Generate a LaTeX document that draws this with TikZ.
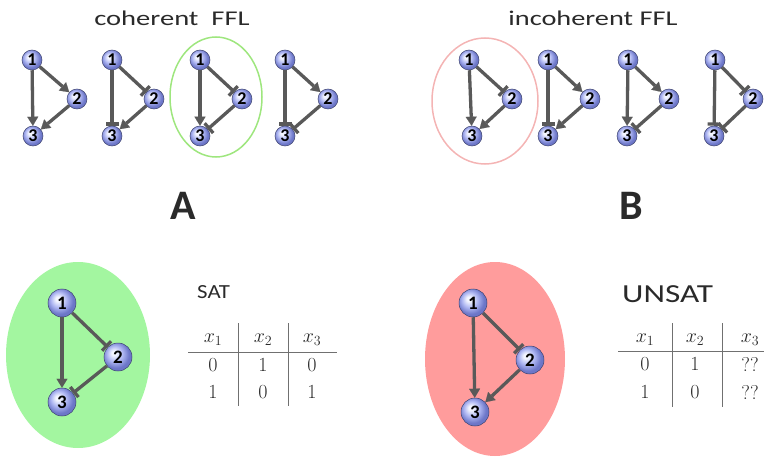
\RequirePackage{fix-cm}
\documentclass[tikz,border=0pt]{standalone}
\usepackage{fontspec}
\newfontfamily\carl{Carlito}
\usetikzlibrary{arrows.meta}
\definecolor{edgegray}{HTML}{595959}
\definecolor{ballhi}{HTML}{F4F6FF}
\definecolor{ballmid}{HTML}{AEB6F2}
\definecolor{balledge}{HTML}{6C76C8}
\definecolor{ballline}{HTML}{3E4470}
\definecolor{ringgreen}{HTML}{9EE67E}
\definecolor{ringred}{HTML}{F4B4B4}
\definecolor{fillgreen}{HTML}{A3F6A0}
\definecolor{fillred}{HTML}{FF9C9C}
\definecolor{rulegray}{HTML}{707070}
\definecolor{txt}{HTML}{2A2A2A}
\pgfdeclareradialshading{fflball}{\pgfpoint{-8bp}{8bp}}{%
  color(0bp)=(ballhi); color(4bp)=(ballhi); color(14bp)=(ballmid);
  color(24bp)=(balledge); color(50bp)=(balledge)}
\newcommand\fflmotif[7]{%
  \node[ball] (#1a) at (#2,60) {1};
  \node[ball] (#1b) at (#3,99) {2};
  \node[ball] (#1c) at (#4,136) {3};
  \draw[#5] (#1a) -- (#1b);
  \draw[#6] (#1b) -- (#1c);
  \draw[#7] (#1a) -- (#1c);
}
\begin{document}
\begin{tikzpicture}[x=1pt,y=-1pt,
  ball/.style={circle, inner sep=0pt, minimum size=20pt, shading=fflball,
    draw=ballline, line width=0.5pt, text=black,
    font=\carl\bfseries\fontsize{18}{18}\selectfont},
  bigball/.style={ball, minimum size=28pt, font=\carl\bfseries\fontsize{19}{19}\selectfont},
  act/.style={draw=edgegray, line width=3.3pt,
    -{Triangle[length=9pt,width=11pt,line width=0.1pt,fill=edgegray]}},
  inh/.style={draw=edgegray, line width=3.3pt,
    -{Bar[width=13pt,line width=3.3pt]}},
  title/.style={font=\carl\fontsize{21}{21}\selectfont, text=txt, inner sep=0pt},
  letter/.style={font=\carl\bfseries\fontsize{42}{42}\selectfont, text=txt, inner sep=0pt},
  sat/.style={font=\carl\fontsize{20}{20}\selectfont, text=txt, inner sep=0pt, anchor=west},
  cell/.style={font=\fontsize{20}{20}\selectfont, inner sep=0pt, text=txt},
  rule/.style={draw=rulegray, line width=0.9pt}
]
\useasboundingbox (0,0) rectangle (764,460);

% titles
\node[title] (tcoh) at (172,18) {\scalebox{1.36}[1]{coherent\ \ FFL}};
\node[title] (tinc) at (593,18) {\scalebox{1.35}[1]{incoherent FFL}};

% rings
\draw[ringgreen, line width=1.5pt] (216,97) ellipse [x radius=46, y radius=60];
\draw[ringred, line width=1.5pt] (485,101) ellipse [x radius=53, y radius=63];

% coherent motifs
\fflmotif{c1}{32}{77}{33}{act}{act}{act}
\fflmotif{c2}{112}{154}{112}{inh}{act}{inh}
\fflmotif{c3}{200}{242}{200}{inh}{inh}{act}
\fflmotif{c4}{285}{328}{285}{act}{inh}{inh}

% incoherent motifs
\fflmotif{i1}{469}{512}{472}{inh}{act}{act}
\fflmotif{i2}{548}{590}{548}{act}{act}{inh}
\fflmotif{i3}{628}{669}{627}{act}{inh}{act}
\fflmotif{i4}{715}{753}{714}{inh}{inh}{inh}

% letters
\node[letter] (lA) at (183,206) {A};
\node[letter] (lB) at (631,206) {B};

% bottom left: SAT
\fill[fillgreen] (78,355) ellipse [x radius=72, y radius=93];
\node[bigball] (ga) at (62,303) {1};
\node[bigball] (gb) at (118,357) {2};
\node[bigball] (gc) at (62,402) {3};
\draw[inh] (ga) -- (gb);
\draw[inh] (gb) -- (gc);
\draw[act] (ga) -- (gc);

\node[sat] (tsat) at (197,292) {\scalebox{1.14}[1]{SAT}};
\draw[rule] (188,352) -- (337,352);
\draw[rule] (238,323) -- (238,406);
\draw[rule] (288,323) -- (288,406);
\node[cell] (sh1) at (213,340) {$x_1$};
\node[cell] (sh2) at (263,340) {$x_2$};
\node[cell] (sh3) at (312,340) {$x_3$};
\node[cell] (sr11) at (213,365) {$0$};
\node[cell] (sr12) at (263,365) {$1$};
\node[cell] (sr13) at (312,365) {$0$};
\node[cell] (sr21) at (213,392) {$1$};
\node[cell] (sr22) at (263,392) {$0$};
\node[cell] (sr23) at (312,392) {$1$};

% bottom right: UNSAT
\fill[fillred] (495,359) ellipse [x radius=70, y radius=97];
\node[bigball] (ra) at (473,303) {1};
\node[bigball] (rb) at (530,360) {2};
\node[bigball] (rc) at (475,412) {3};
\draw[inh] (ra) -- (rb);
\draw[act] (rb) -- (rc);
\draw[act] (ra) -- (rc);

\node[sat, font=\carl\fontsize{26}{26}\selectfont] (tunsat) at (622,294) {\scalebox{1.28}[1]{UNSAT}};
\draw[rule] (618,351) -- (764,351);
\draw[rule] (672,323) -- (672,407);
\draw[rule] (722,323) -- (722,407);
\node[cell] (uh1) at (645,340) {$x_1$};
\node[cell] (uh2) at (695,340) {$x_2$};
\node[cell] (uh3) at (750,340) {$x_3$};
\node[cell] (ur11) at (645,364) {$0$};
\node[cell] (ur12) at (695,364) {$1$};
\node[cell] (ur13) at (750,364) {??};
\node[cell] (ur21) at (645,392) {$1$};
\node[cell] (ur22) at (695,392) {$0$};
\node[cell] (ur23) at (750,392) {??};
\end{tikzpicture}
\end{document}
